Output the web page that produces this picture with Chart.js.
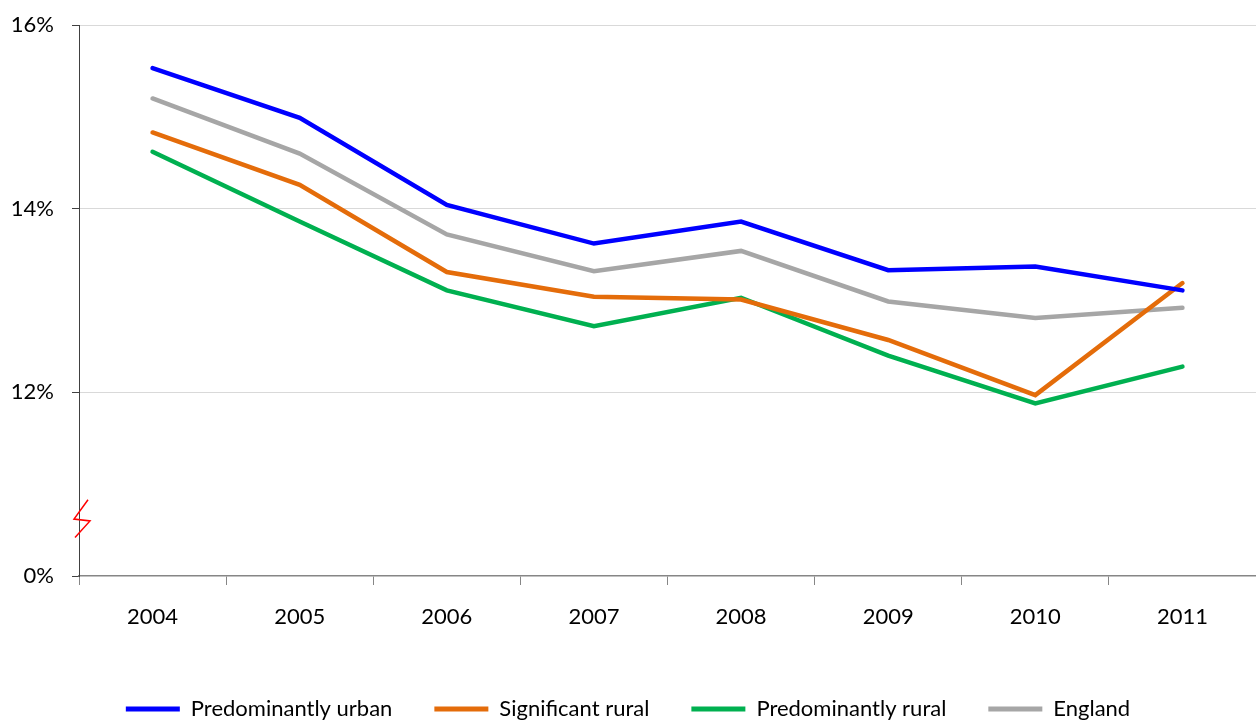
<!DOCTYPE html>
<html>
<head>
<meta charset="utf-8">
<script src="https://cdn.jsdelivr.net/npm/chart.js@4/dist/chart.umd.min.js"></script>
<style>
  html, body { margin: 0; padding: 0; background: #fff; }
  #wrap { width: 1256px; height: 720px; }
</style>
</head>
<body>
<div id="wrap"><canvas id="chart" width="1256" height="720"></canvas></div>
<script>
// years on the x axis
const years = ["2004", "2005", "2006", "2007", "2008", "2009", "2010", "2011"]

// percentages (the axis is broken below 12%, bottom tick is labelled 0%)
const urban       = [15.53, 14.99, 14.04, 13.62, 13.86, 13.33, 13.37, 13.11]
const sigRural    = [14.83, 14.26, 13.31, 13.04, 13.01, 12.57, 11.97, 13.19]
const predRural   = [14.62, 13.86, 13.11, 12.72, 13.03, 12.40, 11.88, 12.28]
const england     = [15.20, 14.60, 13.72, 13.32, 13.54, 12.99, 12.81, 12.92]

// tick labels: the lowest tick stands for 0% on the broken axis
const yTickLabels = { 10: "0%", 12: "12%", 14: "14%", 16: "16%" }

const FONT = "Lato, 'Open Sans', sans-serif"

// red zigzag marking the axis break
const axisBreak = {
  id: "axisBreak",
  afterDraw(chart) {
    const y = chart.scales.y
    const x0 = chart.chartArea.left
    const ctx = chart.ctx
    ctx.save()
    ctx.strokeStyle = "#ff0000"
    ctx.lineWidth = 1.5
    ctx.beginPath()
    ctx.moveTo(x0 + 9, y.getPixelForValue(10.83))
    ctx.lineTo(x0 - 5, y.getPixelForValue(10.62))
    ctx.lineTo(x0 + 11, y.getPixelForValue(10.60))
    ctx.lineTo(x0 - 4, y.getPixelForValue(10.42))
    ctx.stroke()
    ctx.restore()
  }
}

function line(label, data, color) {
  return {
    label: label,
    data: data,
    borderColor: color,
    backgroundColor: color,
    borderWidth: 4.5,
    pointRadius: 0,
    tension: 0,
    borderCapStyle: "round"
  }
}

new Chart(document.getElementById("chart"), {
  type: "line",
  data: {
    labels: years,
    datasets: [
      line("Predominantly urban", urban, "#0000ff"),
      line("Significant rural", sigRural, "#e46c0a"),
      line("Predominantly rural", predRural, "#00b050"),
      line("England", england, "#a6a6a6")
    ]
  },
  options: {
    responsive: false,
    animation: false,
    layout: { padding: { top: 25, right: 0, left: 0, bottom: -10 } },
    scales: {
      x: {
        offset: true,
        grid: {
          offset: true,
          drawOnChartArea: false,
          drawTicks: true,
          tickLength: 9,
          tickColor: "#868686"
        },
        border: { color: "#868686", width: 1.5 },
        ticks: {
          color: "#000",
          padding: 19,
          font: { family: FONT, size: 22 }
        },
        afterFit(s) { s.height = 80 }
      },
      y: {
        min: 10,
        max: 16,
        grid: {
          color: (c) => (c.tick && c.tick.value === 10 ? "rgba(0,0,0,0)" : "#d9d9d9"),
          tickColor: "#404040",
          tickLength: 7
        },
        border: { color: "#404040", width: 1 },
        ticks: {
          stepSize: 2,
          color: "#000",
          padding: 18,
          font: { family: FONT, size: 22 },
          callback: (v) => yTickLabels[v]
        },
        afterFit(s) {
          s.width = 79
          s.paddingTop = 0
          s.paddingBottom = 0
        }
      }
    },
    plugins: {
      legend: {
        position: "bottom",
        labels: {
          boxWidth: 54,
          boxHeight: 5,
          padding: 42,
          color: "#000",
          font: { family: FONT, size: 22 },
          // plain filled strip, no outline, so the sample line stays thin
          generateLabels(chart) {
            return Chart.defaults.plugins.legend.labels.generateLabels(chart)
              .map((item) => Object.assign(item, { lineWidth: 0 }))
          }
        }
      },
      tooltip: { enabled: false }
    }
  },
  plugins: [axisBreak]
})
</script>
</body>
</html>
